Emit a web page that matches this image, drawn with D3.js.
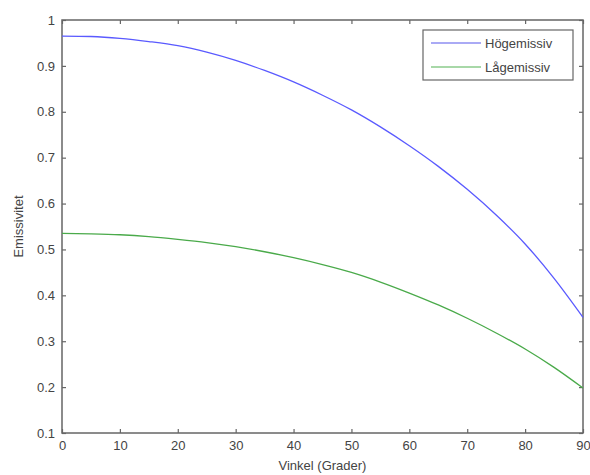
<!DOCTYPE html>
<html>
<head>
<meta charset="utf-8">
<script src="https://cdn.jsdelivr.net/npm/d3@7"></script>
<style>
  body { margin: 0; background: #fff; }
  text { font-family: "Liberation Sans", Arial, sans-serif; fill: #444; }
</style>
</head>
<body>
<script>
// angles in degrees
var angles = [0, 5, 10, 15, 20, 25, 30, 35, 40, 45, 50, 55, 60, 65, 70, 75, 80, 85, 90];
var hogValues = [0.965, 0.964, 0.960, 0.953, 0.944, 0.930, 0.912, 0.890, 0.865, 0.836,
                 0.804, 0.767, 0.726, 0.681, 0.631, 0.575, 0.512, 0.437, 0.352];
var lagValues = [0.535, 0.534, 0.532, 0.528, 0.522, 0.515, 0.506, 0.495, 0.482, 0.467,
                 0.450, 0.429, 0.405, 0.379, 0.350, 0.318, 0.283, 0.243, 0.198];
var seriesNames = ["Högemissiv", "Lågemissiv"];
var seriesColors = ["#5a5aff", "#4aaa4a"];
var legendColors = ["#aaaaf5", "#a8d8a8"];
var xTicks = [0, 10, 20, 30, 40, 50, 60, 70, 80, 90];
var yTicks = [0.1, 0.2, 0.3, 0.4, 0.5, 0.6, 0.7, 0.8, 0.9, 1];

var width = 590, height = 475;
// note: "top" is reserved on window, so use plot* names
var plotLeft = 62, plotRight = 583, plotTop = 20, plotBottom = 433;

var svg = d3.select("body").append("svg")
  .attr("width", width).attr("height", height);

var x = d3.scaleLinear().domain([0, 90]).range([plotLeft, plotRight]);
var y = d3.scaleLinear().domain([0.1, 1]).range([plotBottom, plotTop]);

var axisColor = "#666";

// box
svg.append("rect")
  .attr("x", plotLeft).attr("y", plotTop)
  .attr("width", plotRight - plotLeft).attr("height", plotBottom - plotTop)
  .attr("fill", "none").attr("stroke", axisColor).attr("stroke-width", 1.5);

// ticks pointing inward on all four sides
function styleAxis(g) {
  g.select(".domain").remove();
  g.selectAll(".tick line").attr("stroke", axisColor).attr("stroke-width", 1.2);
  g.selectAll(".tick text").attr("fill", "#444").style("font-size", "13px")
    .style("font-family", "'Liberation Sans', Arial, sans-serif");
}

svg.append("g").attr("transform", "translate(0," + plotBottom + ")")
  .call(d3.axisBottom(x).tickValues(xTicks).tickSize(-4).tickPadding(8).tickFormat(d3.format("d")))
  .call(styleAxis);
svg.append("g").attr("transform", "translate(0," + plotTop + ")")
  .call(d3.axisTop(x).tickValues(xTicks).tickSize(-4).tickFormat(""))
  .call(styleAxis);
svg.append("g").attr("transform", "translate(" + plotLeft + ",0)")
  .call(d3.axisLeft(y).tickValues(yTicks).tickSize(-4).tickPadding(7).tickFormat(function(d) { return d === 1 ? "1" : d3.format(".1f")(d); }))
  .call(styleAxis);
svg.append("g").attr("transform", "translate(" + plotRight + ",0)")
  .call(d3.axisRight(y).tickValues(yTicks).tickSize(-4).tickFormat(""))
  .call(styleAxis);

// lines
var line = d3.line().x(function(d, i) { return x(angles[i]); }).y(function(d) { return y(d); })
  .curve(d3.curveMonotoneX);

[hogValues, lagValues].forEach(function(vals, k) {
  svg.append("path").datum(vals)
    .attr("d", line)
    .attr("fill", "none")
    .attr("stroke", seriesColors[k])
    .attr("stroke-width", 1.3);
});

// axis labels
svg.append("text")
  .attr("x", (plotLeft + plotRight) / 2).attr("y", 470)
  .attr("text-anchor", "middle").style("font-size", "13px")
  .text("Vinkel (Grader)");
svg.append("text")
  .attr("transform", "translate(23," + ((plotTop + plotBottom) / 2) + ") rotate(-90)")
  .attr("text-anchor", "middle").style("font-size", "13px")
  .text("Emissivitet");

// legend
var legend = svg.append("g");
legend.append("rect")
  .attr("x", 423).attr("y", 30).attr("width", 150).attr("height", 50)
  .attr("fill", "#fff").attr("stroke", axisColor).attr("stroke-width", 1.2);
seriesNames.forEach(function(name, k) {
  var ly = 43 + k * 24;
  legend.append("line")
    .attr("x1", 431).attr("x2", 481).attr("y1", ly).attr("y2", ly)
    .attr("stroke", legendColors[k]).attr("stroke-width", 2);
  legend.append("text")
    .attr("x", 485).attr("y", ly + 5)
    .style("font-size", "13px")
    .text(name);
});
</script>
</body>
</html>
